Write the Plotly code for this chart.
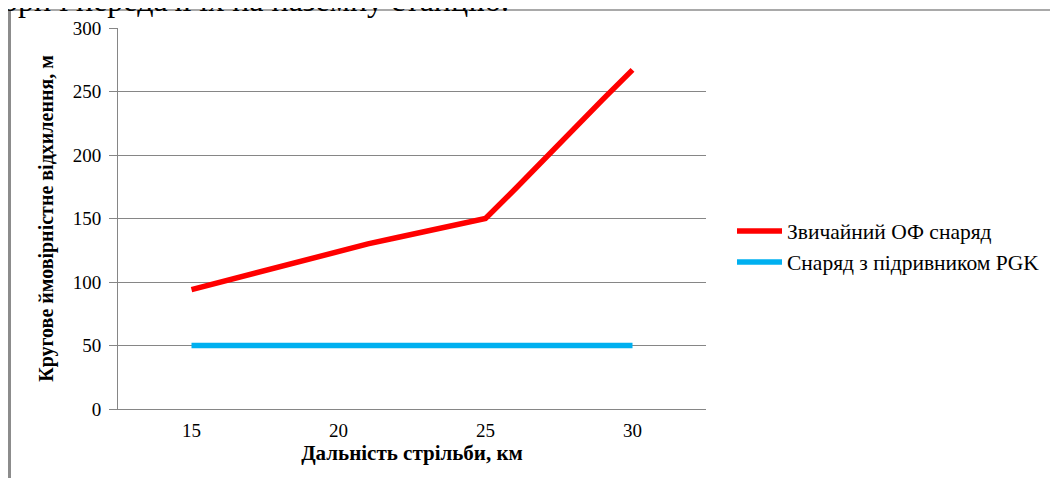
import plotly.graph_objects as go

range_km = [15, 16, 17, 18, 19, 20, 21, 22, 23, 24, 25, 26, 27, 28, 29, 30]
cep_standard = [94, 100, 106.5, 112.5, 119, 125, 130, 135, 140, 145, 150, 173, 197, 220, 244, 267]
cep_pgk = [50, 50, 50, 50, 50, 50, 50, 50, 50, 50, 50, 50, 50, 50, 50, 50]
x_ticks = [15, 20, 25, 30]
y_ticks = [0, 50, 100, 150, 200, 250, 300]

name_standard = "Звичайний ОФ снаряд"
name_pgk = "Снаряд з підривником PGK"

SERIF = "Liberation Serif, Times New Roman, serif"

fig = go.Figure()
fig.add_trace(go.Scatter(x=range_km, y=cep_standard, mode="lines", name=name_standard,
                         line=dict(color="#FF0000", width=5.5)))
fig.add_trace(go.Scatter(x=range_km, y=cep_pgk, mode="lines", name=name_pgk,
                         line=dict(color="#00B0F0", width=5.5)))

OFF = 8  # page body margin of the browser
W, H = 1058 - OFF, 478 - OFF
L, R, T, B = 118, 706, 28, 409  # reference pixel coords of plot area
pw, ph = R - L, B - T

def px(x):
    return (x - L) / pw

def py(y):
    return (B - y) / ph

fig.update_layout(
    width=W, height=H,
    margin=dict(l=L - OFF, r=W - (R - OFF), t=T - OFF, b=H - (B - OFF), autoexpand=False),
    paper_bgcolor="white", plot_bgcolor="white",
    font=dict(family=SERIF, color="black", size=19),
    showlegend=True,
    legend=dict(x=px(732), y=py(246.5), xanchor="left", yanchor="middle",
                font=dict(family=SERIF, size=21.5, color="black"),
                itemwidth=45, tracegroupgap=0, bgcolor="rgba(0,0,0,0)"),
    xaxis=dict(range=[12.5, 32.5], tickvals=x_ticks, showgrid=False, zeroline=False,
               showline=True, linecolor="#868686", linewidth=1,
               ticks="outside", ticklen=4, tickcolor="rgba(0,0,0,0)",
               tickfont=dict(family=SERIF, size=19), fixedrange=True,
               title=dict(text="<b>Дальність стрільби, км</b>",
                          font=dict(family=SERIF, size=21), standoff=3)),
    yaxis=dict(range=[0, 300], tickvals=y_ticks, showgrid=True, gridcolor="#868686",
               gridwidth=1, zeroline=False, showline=True, linecolor="#868686",
               linewidth=1, ticks="outside", ticklen=8, tickcolor="#868686",
               ticklabelstandoff=4,
               tickfont=dict(family=SERIF, size=19), fixedrange=True,
               title=dict(text="<b>Кругове ймовірністне відхилення, м</b>",
                          font=dict(family=SERIF, size=20), standoff=13)),
)

# page frame lines (from scanned document)
fig.add_shape(type="line", xref="paper", yref="paper",
              x0=px(9.5), x1=px(9.5), y0=py(10), y1=py(490),
              line=dict(color="#8c8c8c", width=3))
fig.add_shape(type="line", xref="paper", yref="paper",
              x0=px(8), x1=px(1070), y0=py(10), y1=py(10),
              line=dict(color="#8c8c8c", width=1.5))

# cut-off text line of the document above the chart (only its lower part is visible)
fig.add_annotation(text="ори і передачі їх на наземну станцію.", xref="paper", yref="paper",
                   x=px(0), y=py(20), xanchor="left", yanchor="bottom",
                   showarrow=False, font=dict(family=SERIF, size=32, color="black"))

fig.write_html("out.html")
